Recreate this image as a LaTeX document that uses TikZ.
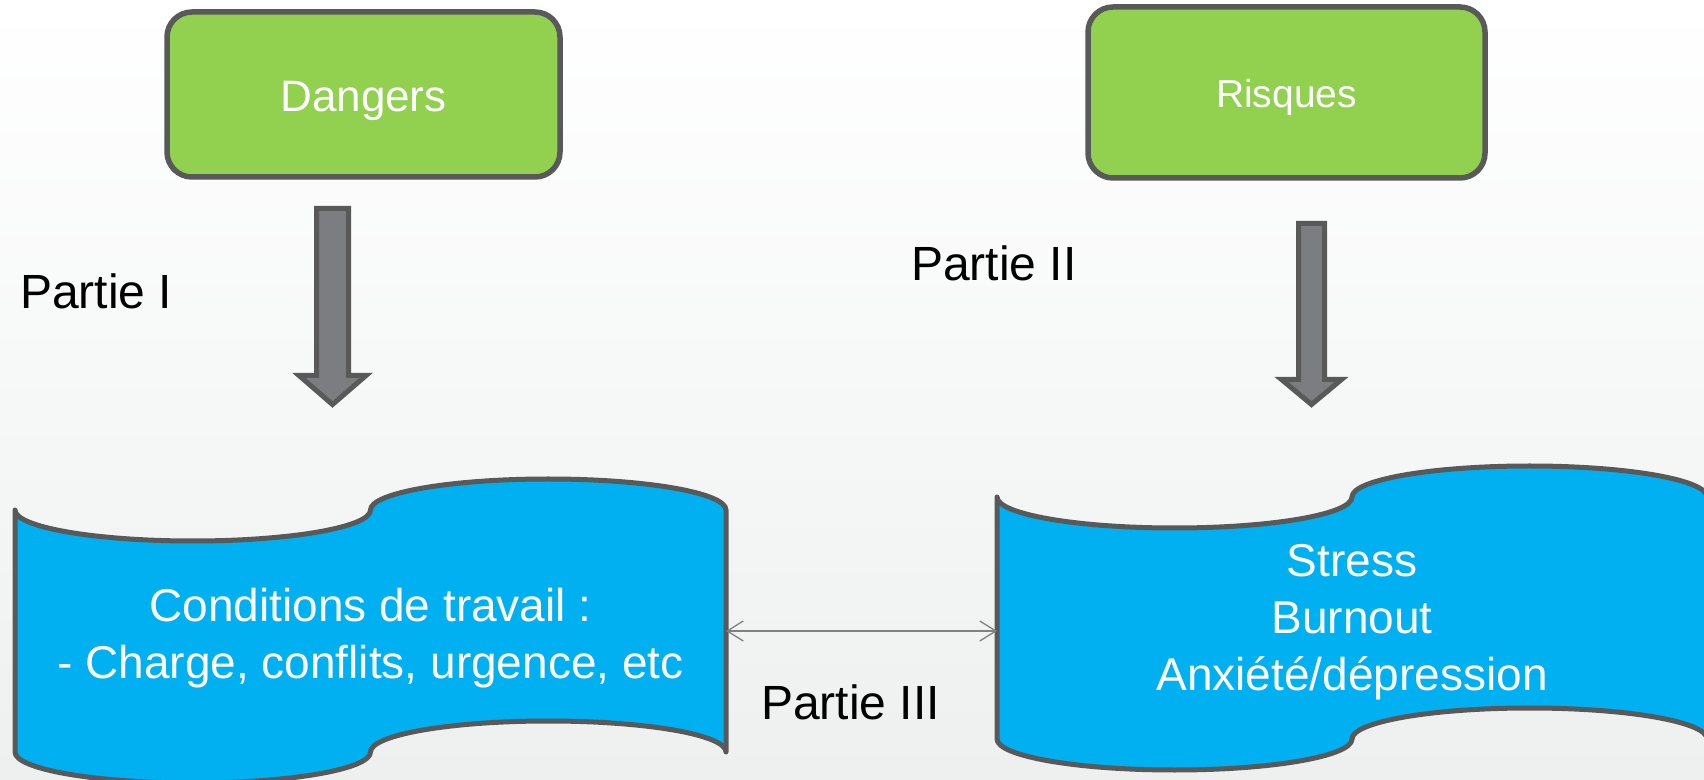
\documentclass[tikz,border=0pt]{standalone}
\usepackage{fontspec}
\setmainfont{Liberation Sans}
\usetikzlibrary{positioning}
\usetikzlibrary{arrows.meta}

\definecolor{boxgreen}{HTML}{92D050}
\definecolor{wavecyan}{HTML}{00B0F0}
\definecolor{edgegray}{HTML}{595959}
\definecolor{shaftgray}{HTML}{7C7D81}
\definecolor{linkgray}{HTML}{808080}
\definecolor{bgbottom}{HTML}{EEF0F0}

\begin{document}
\begin{tikzpicture}[x=1pt,y=1pt,
  greenbox/.style={rectangle,rounded corners=25pt,draw=edgegray,line width=5.5pt,fill=boxgreen,text=white,text depth=0pt},
  wavebody/.style={rectangle,inner sep=0pt,outer sep=0pt,minimum height=242pt},
  wave/.style={draw=edgegray,line width=5pt,fill=wavecyan,line join=round},
  wavetext/.style={text=white,align=center,font=\fontsize{46}{57}\selectfont},
  bigarrow/.style={draw=edgegray,line width=5pt,fill=shaftgray,line join=miter},
  partie/.style={anchor=base west,inner sep=0pt,font=\fontsize{48}{56}\selectfont}]

\useasboundingbox (0,0) rectangle (1704,779);
\clip (0,0) rectangle (1704,779);
\shade [top color=white,bottom color=bgbottom] (0,0) rectangle (1704,779);

% top boxes
\node [greenbox,minimum width=393pt,minimum height=165pt,text height=35pt,font=\fontsize{44}{52}\selectfont] (dangers) at (363.5,684.5) {Dangers};
\node [greenbox,minimum width=397pt,minimum height=171pt,text height=31pt,font=\fontsize{39}{46}\selectfont] (risques) at (1286.5,686.5) {Risques};

% block arrows
\draw [bigarrow] (316.5,570.5) -- (316.5,403.5) -- (299,403.5) -- (332.5,374.5) -- (366,403.5) -- (348.5,403.5) -- (348.5,570.5) -- cycle;
\draw [bigarrow] (1298.5,555.5) -- (1298.5,399.5) -- (1281.5,399.5) -- (1311.5,374.5) -- (1341.5,399.5) -- (1324.5,399.5) -- (1324.5,555.5) -- cycle;

% punched tape shapes
\node [wavebody,minimum width=711pt] (conditions) at (370.5,148) {};
\node [wavebody,minimum width=710pt] (symptomes) at (1352,161) {};
\path [wave] (conditions.north west)
  arc [start angle=180,end angle=360,x radius=177.75,y radius=31]
  arc [start angle=180,end angle=0,x radius=177.75,y radius=31]
  -- (conditions.south east)
  arc [start angle=0,end angle=180,x radius=177.75,y radius=31]
  arc [start angle=0,end angle=-180,x radius=177.75,y radius=31] -- cycle;
\path [wave] (symptomes.north west)
  arc [start angle=180,end angle=360,x radius=177.5,y radius=31]
  arc [start angle=180,end angle=0,x radius=177.5,y radius=31]
  -- (symptomes.south east)
  arc [start angle=0,end angle=180,x radius=177.5,y radius=31]
  arc [start angle=0,end angle=-180,x radius=177.5,y radius=31] -- cycle;
\node [wavetext] (conditionstext) at ([yshift=-7pt]conditions.center) {Conditions de travail :\\- Charge, conflits, urgence, etc};
\node [wavetext] (symptomestext) at ([yshift=-4.5pt]symptomes.center) {Stress\\Burnout\\Anxiété/dépression};

\draw [linkgray,line width=1.3pt,{Straight Barb[length=16pt,width=20pt]}-{Straight Barb[length=16pt,width=20pt]}] (conditions.east) -- (conditions.east -| symptomes.west);

% labels
\node [partie] (partieI) at (20,470) {Partie I};
\node [partie] (partieII) at (911,498) {Partie II};
\node [partie] (partieIII) at (761,60) {Partie III};
\end{tikzpicture}
\end{document}
